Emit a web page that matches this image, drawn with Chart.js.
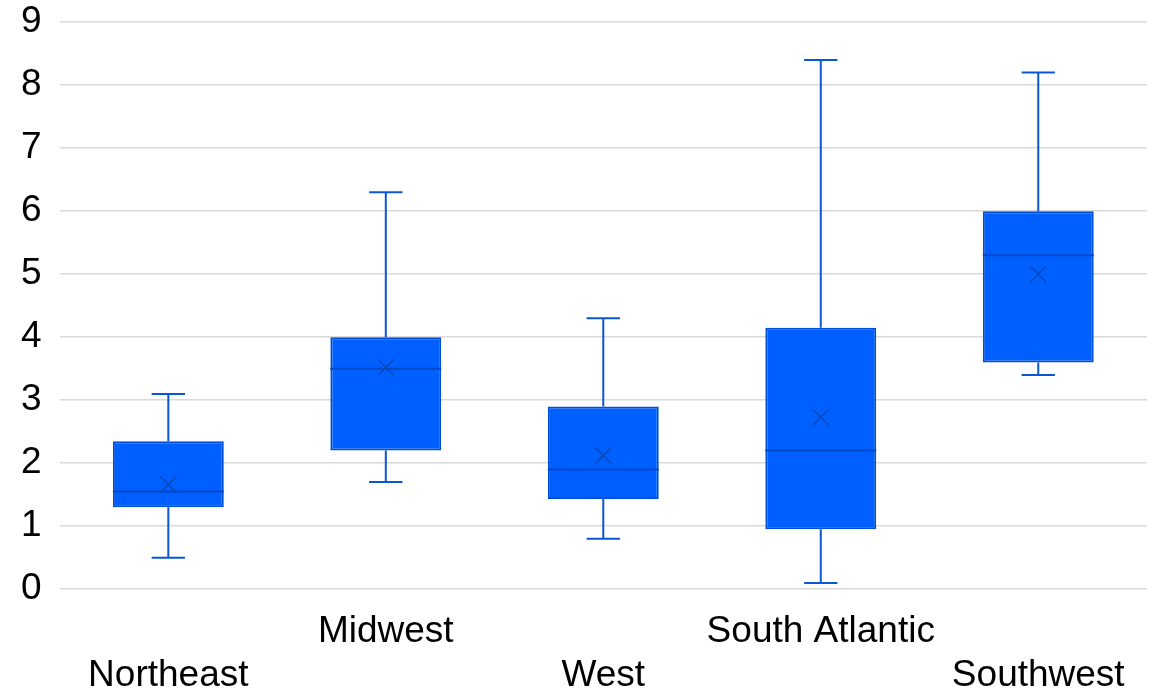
<!DOCTYPE html>
<html>
<head>
<meta charset="utf-8">
<script src="https://cdn.jsdelivr.net/npm/chart.js@4"></script>
<style>
  body { margin: 0; background: #fff; }
  #wrap { width: 1165px; height: 691px; }
</style>
</head>
<body>
<div id="wrap"><canvas id="boxChart"></canvas></div>
<script>
// box plot data per region
const categories = ['Northeast', 'Midwest', 'West', 'South Atlantic', 'Southwest'];
const minValues = [0.5, 1.7, 0.8, 0.1, 3.4];
const q1Values = [1.3, 2.2, 1.43, 0.95, 3.6];
const medianValues = [1.55, 3.5, 1.9, 2.2, 5.3];
const q3Values = [2.35, 4.0, 2.9, 4.15, 6.0];
const maxValues = [3.1, 6.3, 4.3, 8.4, 8.2];
const meanValues = [1.66, 3.52, 2.12, 2.73, 5.0];
const yTicks = [0, 1, 2, 3, 4, 5, 6, 7, 8, 9];

// labels alternate between two rows
const labels = categories.map((c, i) => i % 2 === 0 ? ['', c] : [c]);

Chart.defaults.font.family = "'Liberation Sans', Arial, sans-serif";
Chart.defaults.color = '#000';

const boxExtras = {
  id: 'boxExtras',
  afterDatasetsDraw(chart) {
    const ctx = chart.ctx;
    const y = chart.scales.y;
    const meta = chart.getDatasetMeta(0);
    meta.data.forEach((bar, i) => {
      const x = bar.x;
      const half = bar.width / 2;
      const cap = bar.width * 0.15;
      ctx.save();
      // whiskers
      ctx.strokeStyle = '#0A57D6';
      ctx.lineWidth = 2;
      ctx.beginPath();
      ctx.moveTo(x, y.getPixelForValue(q3Values[i]));
      ctx.lineTo(x, y.getPixelForValue(maxValues[i]));
      ctx.moveTo(x - cap, y.getPixelForValue(maxValues[i]));
      ctx.lineTo(x + cap, y.getPixelForValue(maxValues[i]));
      ctx.moveTo(x, y.getPixelForValue(q1Values[i]));
      ctx.lineTo(x, y.getPixelForValue(minValues[i]));
      ctx.moveTo(x - cap, y.getPixelForValue(minValues[i]));
      ctx.lineTo(x + cap, y.getPixelForValue(minValues[i]));
      ctx.stroke();
      // median
      ctx.strokeStyle = '#0049C6';
      ctx.beginPath();
      const my = y.getPixelForValue(medianValues[i]);
      ctx.moveTo(x - half, my);
      ctx.lineTo(x + half, my);
      ctx.stroke();
      // mean marker
      const ey = y.getPixelForValue(meanValues[i]);
      const s = 8;
      ctx.strokeStyle = '#0A48B8';
      ctx.lineWidth = 1.5;
      ctx.beginPath();
      ctx.moveTo(x - s, ey - s);
      ctx.lineTo(x + s, ey + s);
      ctx.moveTo(x + s, ey - s);
      ctx.lineTo(x - s, ey + s);
      ctx.stroke();
      ctx.restore();
    });
  }
};

new Chart(document.getElementById('boxChart'), {
  type: 'bar',
  data: {
    labels: labels,
    datasets: [{
      data: q1Values.map((q, i) => [q, q3Values[i]]),
      backgroundColor: '#005FFF',
      borderColor: '#004FD6',
      borderWidth: 2,
      borderSkipped: false,
      barPercentage: 0.51,
      categoryPercentage: 1
    }]
  },
  options: {
    responsive: true,
    maintainAspectRatio: false,
    animation: false,
    layout: { padding: { left: 21, right: 18, top: 0, bottom: -19 } },
    plugins: { legend: { display: false }, tooltip: { enabled: false } },
    scales: {
      x: {
        grid: { display: false },
        border: { display: false },
        ticks: { font: { size: 37 }, maxRotation: 0, autoSkip: false, padding: 12 }
      },
      y: {
        min: 0, max: 9,
        afterBuildTicks: axis => { axis.ticks = yTicks.map(v => ({ value: v })); },
        grid: { color: '#d9d9d9', lineWidth: 1.5, drawTicks: true, tickLength: 18, tickColor: 'rgba(0,0,0,0)' },
        border: { display: false },
        ticks: { font: { size: 37 }, padding: 0 }
      }
    }
  },
  plugins: [boxExtras]
});
</script>
</body>
</html>
